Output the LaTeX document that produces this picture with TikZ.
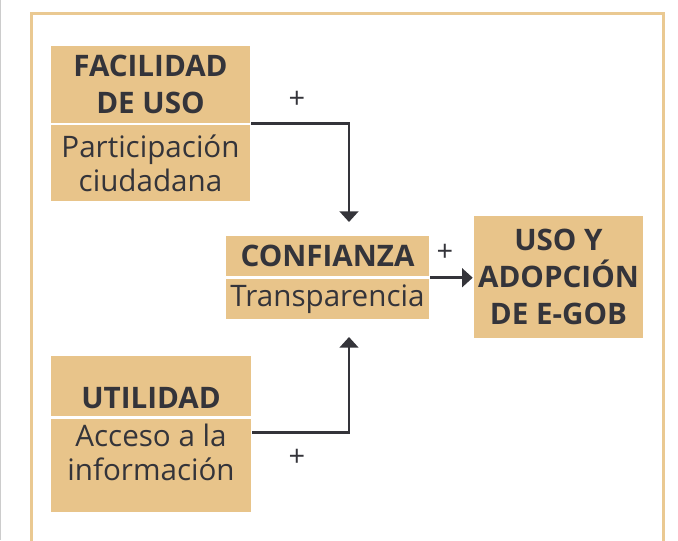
\documentclass[tikz,border=0pt]{standalone}
\usepackage{fontspec}
\setmainfont{Open Sans}
\usetikzlibrary{arrows.meta}
\definecolor{arena}{RGB}{232,196,138}
\definecolor{marco}{RGB}{234,201,146}
\definecolor{tinta}{RGB}{52,52,58}

\begin{document}
\begin{tikzpicture}[x=0.75pt,y=-0.75pt,line width=1.9pt,>={Triangle[length=8pt,width=14pt]},
  caja/.style={fill=arena,inner sep=0pt,text=tinta,align=center},
  titulo/.style={caja,font=\fontsize{22.2}{27.75}\selectfont\bfseries},
  texto/.style={caja,font=\fontsize{22.2}{25.5}\selectfont},
  signo/.style={text=tinta,inner sep=0pt,font=\fontsize{21.75}{21.75}\selectfont},
  flecha/.style={draw=tinta,->}]
  \useasboundingbox (0,0) rectangle (678,540);
  \clip (0,0) rectangle (678,540);
  % marco
  \draw[black!20,line width=0.75pt] (0.5,0) -- (0.5,540);
  \draw[marco,line width=2.25pt] (31.5,560) -- (31.5,13) -- (663,13) -- (663,560);
  % factores
  \node[titulo,minimum width=149.25pt,minimum height=57.75pt] (facA) at (150.5,84.5) {FACILIDAD\\DE USO};
  \node[texto,minimum width=149.25pt,minimum height=57pt] (facB) at (150.5,163) {Participación\\ciudadana};
  \node[titulo,minimum width=152.25pt,minimum height=30pt] (confA) at (327.5,256) {CONFIANZA};
  \node[texto,minimum width=152.25pt,minimum height=30pt] (confB) at (327.5,299) {Transparencia};
  \node[titulo,minimum width=126.75pt,minimum height=91.5pt] (usoA) at (558.5,277) {USO Y\\ADOPCIÓN\\DE E-GOB};
  % utilidad: texto mas abajo que el centro
  \node[caja,minimum width=150pt,minimum height=45pt] (utiA) at (151,386) {};
  \node[caja,minimum width=150pt,minimum height=69.75pt] (utiB) at (151,465.5) {};
  \node[titulo] (utiAt) at (151,398) {UTILIDAD};
  \node[texto] (utiBt) at (151,452.5) {Acceso a la\\información};
  % flechas
  \coordinate (tipA) at (349,222);
  \coordinate (tipB) at (349,337);
  \draw[flecha] (facB.north east) -| (tipA);
  \draw[flecha] ([yshift=-11.25pt]utiB.north east) -| (tipB);
  \draw[flecha] (confB.north east) -- (confB.north east -| usoA.west);
  % signos
  \node[signo] (masA) at (297,100) {+};
  \node[signo] (masB) at (445,253) {+};
  \node[signo] (masC) at (297,458) {+};
\end{tikzpicture}
\end{document}
